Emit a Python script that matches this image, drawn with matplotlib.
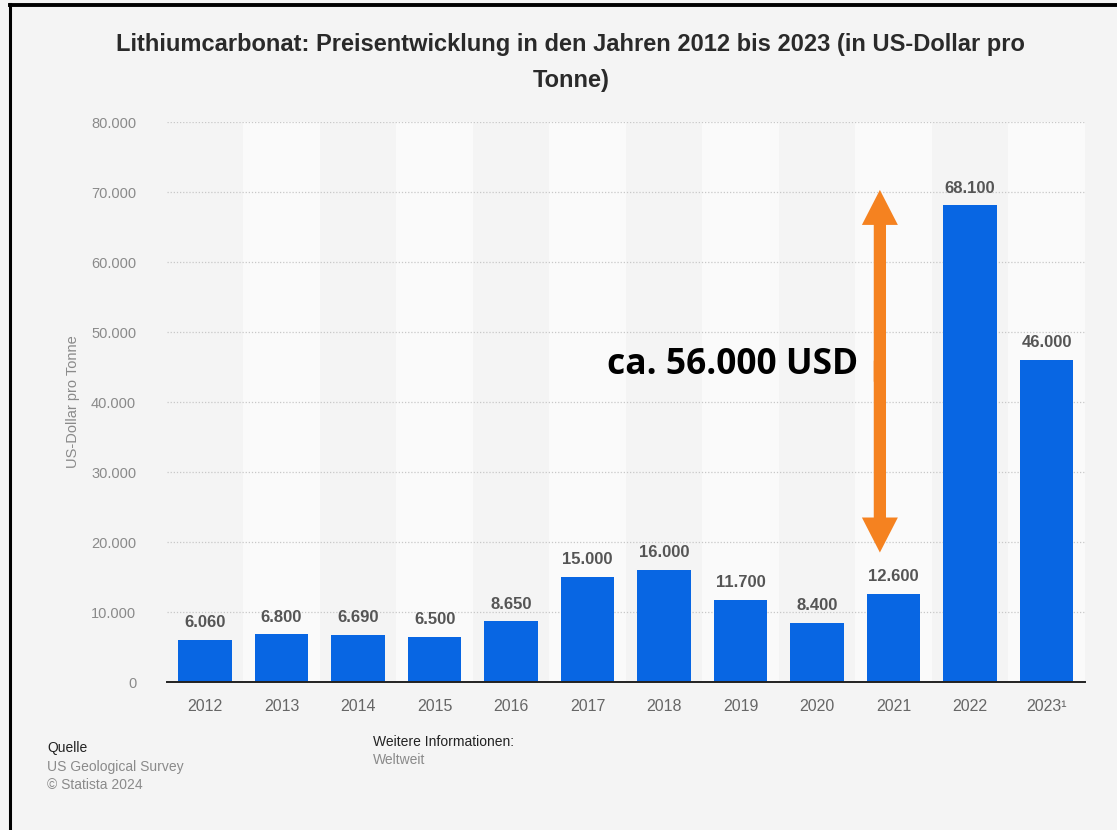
import matplotlib
matplotlib.use('Agg')
import matplotlib.pyplot as plt
import numpy as np
from matplotlib.ticker import FuncFormatter

years = ['2012', '2013', '2014', '2015', '2016', '2017', '2018', '2019', '2020', '2021', '2022', '2023¹']
prices = [6060, 6800, 6690, 6500, 8650, 15000, 16000, 11700, 8400, 12600, 68100, 46000]
y_ticks = [0, 10000, 20000, 30000, 40000, 50000, 60000, 70000, 80000]

# span marker between 2021 and 2022
span_low = 18500
span_high = 70300
span_label = 'ca. 56.000 USD'

BG = '#f4f4f4'
STRIPE = '#fafafa'
BLUE = '#0866e3'
ORANGE = '#f58220'


def dotted_thousands(v, pos=None):
    return f'{int(round(v)):,}'.replace(',', '.')


plt.rcParams['font.family'] = ['Liberation Sans', 'DejaVu Sans']

fig = plt.figure(figsize=(11.17, 8.30), dpi=100, facecolor=BG)
ax = fig.add_axes([0.1493, 0.1783, 0.8220, 0.6747])
ax.set_facecolor('none')

x = np.arange(len(years))
for i in x:
    if i % 2 == 1:
        ax.axvspan(i - 0.5, i + 0.5, color=STRIPE, zorder=0, lw=0)

ax.bar(x, prices, width=0.70, color=BLUE, zorder=3)
for xi, v in zip(x, prices):
    ax.annotate(dotted_thousands(v), (xi, v), xytext=(0, 7), textcoords='offset points',
                ha='center', va='bottom', fontsize=12, fontweight='bold', color='#555555', zorder=4)

ax.set_xlim(-0.5, len(years) - 0.5)
ax.set_ylim(0, 80000)
ax.set_yticks(y_ticks)
ax.yaxis.set_major_formatter(FuncFormatter(dotted_thousands))
ax.set_xticks(x)
ax.set_xticklabels(years)
ax.grid(axis='y', linestyle=(0, (1, 1.5)), color='#c8c8c8', lw=0.9, zorder=1)
ax.tick_params(axis='y', length=0, pad=22, labelsize=10.5, labelcolor='#8a8a8a')
ax.tick_params(axis='x', length=0, pad=12, labelsize=11.5, labelcolor='#666666')
for s in ['top', 'right', 'left']:
    ax.spines[s].set_visible(False)
ax.spines['bottom'].set_color('#222222')
ax.spines['bottom'].set_linewidth(1.4)
ax.spines['bottom'].set_zorder(5)

ax.set_ylabel('US-Dollar pro Tonne', fontsize=10.5, color='#8a8a8a', labelpad=8)

# double-headed arrow built from two single arrows overlapping in the middle
arrow_x = 8.82
mid = (span_low + span_high) / 2
for end, sign in ((span_high, 1), (span_low, -1)):
    start = mid - sign * 1500
    ax.arrow(arrow_x, start, 0, end - start, width=0.16, head_width=0.47, head_length=5000,
             length_includes_head=True, color=ORANGE, lw=0, zorder=6)
ax.text(arrow_x - 0.29, 45300, span_label, ha='right', va='center', fontsize=25.5,
        fontweight='bold', family=['Open Sans', 'DejaVu Sans'], color='black', zorder=6)

fig.text(0.511, 0.9247, 'Lithiumcarbonat: Preisentwicklung in den Jahren 2012 bis 2023 (in US-Dollar pro\nTonne)',
         ha='center', va='center', fontsize=17, fontweight='bold', color='#2a2a2a', linespacing=1.75)

fig.text(47 / 1117, 1 - 748 / 830, 'Quelle', fontsize=10, color='#222222', va='center')
fig.text(47 / 1117, 1 - 767 / 830, 'US Geological Survey', fontsize=10, color='#8a8a8a', va='center')
fig.text(47 / 1117, 1 - 785 / 830, '© Statista 2024', fontsize=10, color='#8a8a8a', va='center')
fig.text(373 / 1117, 1 - 742 / 830, 'Weitere Informationen:', fontsize=10, color='#222222', va='center')
fig.text(373 / 1117, 1 - 760 / 830, 'Weltweit', fontsize=10, color='#8a8a8a', va='center')

# frame lines along the top and left edge
fig.add_artist(plt.Line2D([10 / 1117, 10 / 1117], [0, 1 - 4 / 830], color='black', lw=2.2))
fig.add_artist(plt.Line2D([10 / 1117, 1], [1 - 5 / 830, 1 - 5 / 830], color='black', lw=2.8))

fig.savefig('out.png', dpi=100, facecolor=BG)
